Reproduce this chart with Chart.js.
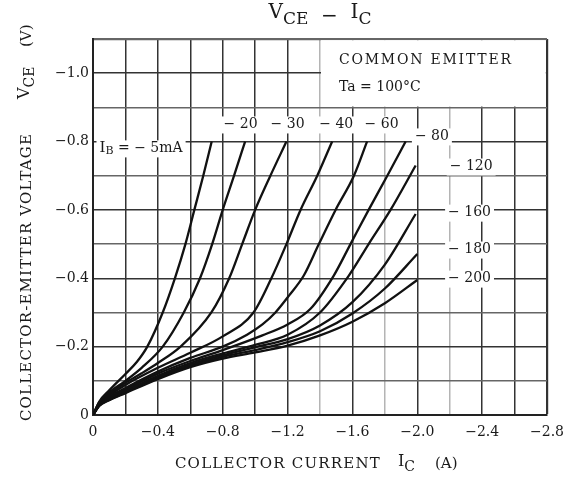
<!DOCTYPE html>
<html>
<head>
<meta charset="utf-8">
<script src="https://cdn.jsdelivr.net/npm/chart.js"></script>
<style>
html, body { margin: 0; padding: 0; background: #fff; }
#wrap { width: 576px; height: 479px; position: relative; }
</style>
</head>
<body>
<div id="wrap"><canvas id="myChart"></canvas></div>
<script>
// base current of each curve
const ibLabels = ['-5mA', '-20', '-30', '-40', '-60', '-80', '-120', '-160', '-180', '-200'];

// collector current IC (A) and collector-emitter voltage VCE (V)
const ic5    = [0, -0.04, -0.1, -0.2, -0.27, -0.335, -0.43, -0.505, -0.57, -0.625, -0.68, -0.732];
const vce5   = [0, -0.04, -0.072, -0.12, -0.155, -0.2, -0.3, -0.4, -0.5, -0.6, -0.7, -0.8];
const ic20   = [0, -0.04, -0.1, -0.2, -0.3, -0.43, -0.56, -0.66, -0.735, -0.8, -0.87, -0.938];
const vce20  = [0, -0.038, -0.066, -0.1, -0.138, -0.2, -0.3, -0.4, -0.5, -0.6, -0.7, -0.8];
const ic30   = [0, -0.04, -0.1, -0.2, -0.3, -0.4, -0.54, -0.73, -0.84, -0.92, -1.0, -1.094, -1.193];
const vce30  = [0, -0.036, -0.062, -0.094, -0.122, -0.152, -0.2, -0.3, -0.4, -0.5, -0.6, -0.7, -0.8];
const ic40   = [0, -0.04, -0.1, -0.2, -0.4, -0.6, -0.8, -0.99, -1.1, -1.193, -1.28, -1.383, -1.475];
const vce40  = [0, -0.034, -0.057, -0.088, -0.138, -0.182, -0.23, -0.3, -0.4, -0.5, -0.6, -0.7, -0.8];
const ic60   = [0, -0.04, -0.1, -0.2, -0.4, -0.6, -0.8, -0.95, -1.045, -1.125, -1.21, -1.3, -1.393, -1.496, -1.609, -1.69];
const vce60  = [0, -0.032, -0.053, -0.079, -0.127, -0.167, -0.2, -0.235, -0.265, -0.3, -0.35, -0.408, -0.5, -0.6, -0.7, -0.8];
const ic80   = [0, -0.04, -0.1, -0.2, -0.4, -0.6, -0.8, -1.045, -1.2, -1.34, -1.485, -1.588, -1.7, -1.815, -1.928];
const vce80  = [0, -0.031, -0.05, -0.074, -0.121, -0.158, -0.19, -0.233, -0.265, -0.31, -0.408, -0.5, -0.6, -0.7, -0.8];
const ic120  = [0, -0.04, -0.1, -0.2, -0.4, -0.6, -0.8, -1.0, -1.2, -1.4, -1.578, -1.7, -1.835, -1.99];
const vce120 = [0, -0.03, -0.048, -0.07, -0.115, -0.152, -0.18, -0.205, -0.235, -0.3, -0.408, -0.5, -0.6, -0.73];
const ic160  = [0, -0.04, -0.1, -0.2, -0.4, -0.6, -0.8, -1.0, -1.2, -1.4, -1.6, -1.8, -1.99];
const vce160 = [0, -0.029, -0.046, -0.068, -0.111, -0.147, -0.175, -0.198, -0.222, -0.262, -0.33, -0.44, -0.588];
const ic180  = [0, -0.04, -0.1, -0.2, -0.4, -0.6, -0.8, -1.0, -1.2, -1.4, -1.6, -1.8, -2.0];
const vce180 = [0, -0.028, -0.044, -0.066, -0.108, -0.143, -0.17, -0.19, -0.213, -0.245, -0.297, -0.37, -0.471];
const ic200  = [0, -0.04, -0.1, -0.2, -0.4, -0.6, -0.8, -1.0, -1.2, -1.4, -1.6, -1.8, -2.0];
const vce200 = [0, -0.027, -0.043, -0.064, -0.105, -0.14, -0.165, -0.183, -0.203, -0.233, -0.273, -0.327, -0.395];

// where each curve label sits, in axis units [IC, VCE]
const labelPos = [[-0.04, -0.78], [-0.91, -0.85], [-1.2, -0.85], [-1.5, -0.85], [-1.78, -0.85],
                  [-2.09, -0.815], [-2.2, -0.727], [-2.19, -0.592], [-2.19, -0.484], [-2.19, -0.399]];

const curves = [[ic5, vce5], [ic20, vce20], [ic30, vce30], [ic40, vce40], [ic60, vce60],
                [ic80, vce80], [ic120, vce120], [ic160, vce160], [ic180, vce180], [ic200, vce200]];

const SERIF = '"DejaVu Serif", serif';
const MINUS = '\u2212';

function fmt(v) {
  if (Math.abs(v) < 1e-9) return '0';
  return MINUS + Math.abs(v).toFixed(1);
}
function lbl(s) { return s.replace('-', MINUS + ' '); }

// text in pieces, so subscripts can drop a little
function rich(ctx, parts, x, y, align) {
  let w = 0;
  parts.forEach(p => { ctx.font = p.f; w += ctx.measureText(p.t).width; });
  let cx = align === 'center' ? x - w / 2 : x;
  parts.forEach(p => {
    ctx.font = p.f;
    ctx.fillText(p.t, cx, y + (p.dy || 0));
    cx += ctx.measureText(p.t).width;
  });
}
// spread a string out to a given width
function spread(ctx, text, font, x, y, width, align) {
  ctx.font = font;
  ctx.letterSpacing = '0px';
  const nat = ctx.measureText(text).width;
  ctx.letterSpacing = ((width - nat) / (text.length - 1)).toFixed(2) + 'px';
  ctx.textAlign = align || 'center';
  ctx.fillText(text, x, y);
  ctx.letterSpacing = '0px';
  ctx.textAlign = 'left';
}

const decor = {
  id: 'decor',
  beforeDatasetsDraw(chart) {
    const { ctx, chartArea: a, scales: { x, y } } = chart;
    const bx = x.getPixelForValue(-1.4), by = y.getPixelForValue(-0.9);
    ctx.save();
    ctx.fillStyle = '#fff';
    ctx.fillRect(bx + 1, a.top + 1.2, a.right - bx - 2.2, by - a.top - 2);
    ctx.restore();
  },
  afterDatasetsDraw(chart) {
    const { ctx, scales: { x, y } } = chart;
    ctx.save();
    ctx.fillStyle = '#1a1a1a';
    ctx.textBaseline = 'middle';
    // legend box text
    const bx = x.getPixelForValue(-1.4);
    spread(ctx, 'COMMON EMITTER', '14px ' + SERIF, bx + 19, 60, 172, 'left');
    ctx.font = '14px ' + SERIF;
    ctx.fillText('Ta = 100\u00b0C', bx + 19, 87);

    ibLabels.forEach((s, i) => {
      const px = x.getPixelForValue(labelPos[i][0]);
      const py = y.getPixelForValue(labelPos[i][1]);
      let parts;
      if (i === 0) {
        parts = [{ t: 'I', f: '15px ' + SERIF }, { t: 'B', f: '11px ' + SERIF, dy: 3 },
                 { t: ' = ' + lbl(s), f: '14px ' + SERIF }];
      } else {
        parts = [{ t: lbl(s), f: '14px ' + SERIF }];
      }
      let w = 0;
      parts.forEach(p => { ctx.font = p.f; w += ctx.measureText(p.t).width; });
      const left = (i === 0 || i >= 6) ? px : px - w / 2;
      ctx.fillStyle = '#fff';
      ctx.fillRect(left - 3, py - 8, w + 6, 17);
      ctx.fillStyle = '#1a1a1a';
      rich(ctx, parts, left, py, 'left');
    });
    ctx.restore();
  },
  afterDraw(chart) {
    const { ctx, chartArea: a } = chart;
    const cx = (a.left + a.right) / 2;
    ctx.save();
    ctx.fillStyle = '#1a1a1a';
    ctx.textBaseline = 'middle';
    const big = '20px ' + SERIF, sub = '17px ' + SERIF;
    rich(ctx, [{ t: 'V', f: big }, { t: 'CE', f: sub, dy: 7 }, { t: '  ' + MINUS + '  ', f: big, dy: 4 },
               { t: 'I', f: big }, { t: 'C', f: sub, dy: 7 }], cx, 13, 'center');

    // x axis title
    spread(ctx, 'COLLECTOR CURRENT', '15px ' + SERIF, 278, 464, 205);
    rich(ctx, [{ t: 'I', f: '16px ' + SERIF }, { t: 'C', f: '14px ' + SERIF, dy: 5 }], 398, 462, 'left');
    ctx.font = '15px ' + SERIF;
    ctx.fillText('(A)', 435, 464);

    // y axis title, reads bottom to top
    ctx.translate(27, 0);
    ctx.rotate(-Math.PI / 2);
    spread(ctx, 'COLLECTOR-EMITTER VOLTAGE', '15px ' + SERIF, -277, 0, 287);
    rich(ctx, [{ t: 'V', f: '16px ' + SERIF }, { t: 'CE', f: '14px ' + SERIF, dy: 5 }], -99, -2, 'left');
    ctx.font = '15px ' + SERIF;
    ctx.fillText('(V)', -47, 0);
    ctx.restore();
  }
};

const datasets = curves.map((c, i) => ({
  label: 'IB ' + ibLabels[i],
  data: c[0].map((v, j) => ({ x: v, y: c[1][j] })),
  showLine: true,
  borderColor: '#111',
  borderWidth: 2.3,
  pointRadius: 0,
  cubicInterpolationMode: 'monotone',
  fill: false
}));

const tenth = v => Math.round(v * 10);

new Chart('myChart', {
  type: 'scatter',
  data: { datasets: datasets },
  plugins: [decor],
  options: {
    responsive: true,
    maintainAspectRatio: false,
    animation: false,
    layout: { padding: { top: 39, right: 29, left: 0, bottom: 0 } },
    plugins: { legend: { display: false }, tooltip: { enabled: false } },
    scales: {
      x: {
        type: 'linear', min: -2.8, max: 0, reverse: true,
        afterFit: s => { s.height = 64; },
        border: { color: '#222', width: 2 },
        grid: {
          drawTicks: false,
          color: c => [-14, -18, -22].includes(tenth(c.tick.value)) ? '#b4b4b4' : '#333',
          lineWidth: c => tenth(c.tick.value) === -28 ? 2.2 : 1.5
        },
        ticks: {
          stepSize: 0.2, autoSkip: false, maxRotation: 0, padding: 9,
          color: '#1a1a1a', font: { family: SERIF, size: 14 },
          callback: v => tenth(v) % 4 === 0 ? fmt(v) : ''
        }
      },
      y: {
        type: 'linear', min: -1.1, max: 0, reverse: true,
        afterFit: s => { s.width = 93; },
        border: { color: '#222', width: 2 },
        grid: {
          drawTicks: false,
          color: c => tenth(c.tick.value) % 2 === 0 ? '#333' : '#666',
          lineWidth: c => tenth(c.tick.value) === -11 ? 2.2 : 1.5
        },
        ticks: {
          stepSize: 0.1, autoSkip: false, padding: 4,
          color: '#1a1a1a', font: { family: SERIF, size: 14 },
          callback: v => tenth(v) % 2 === 0 ? fmt(v) : ''
        }
      }
    }
  }
});
</script>
</body>
</html>
